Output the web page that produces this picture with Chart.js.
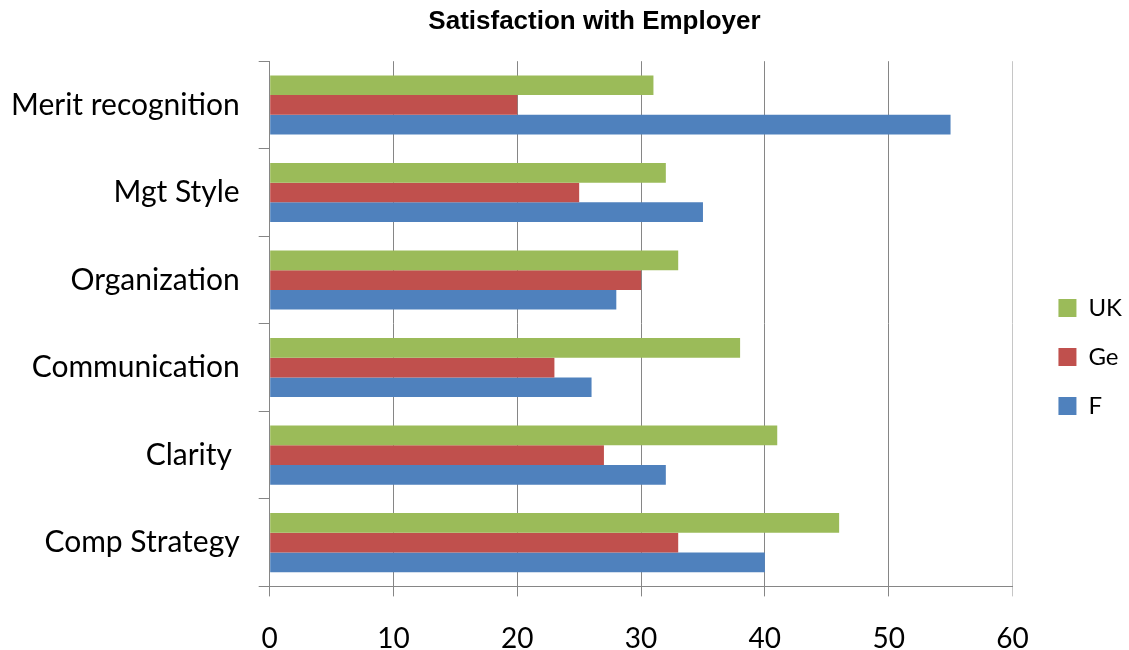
<!DOCTYPE html>
<html>
<head>
<meta charset="utf-8">
<script src="https://cdn.jsdelivr.net/npm/chart.js@4.4.1/dist/chart.umd.min.js"></script>
<style>
  html, body { margin: 0; padding: 0; background: #fff; }
  #wrap { width: 1129px; height: 650px; }
</style>
</head>
<body>
<div id="wrap"><canvas id="chart1" width="1129" height="650"></canvas></div>
<script>
// data
const categories = ['Merit recognition', 'Mgt Style', 'Organization', 'Communication', 'Clarity ', 'Comp Strategy'];
const ukValues = [31, 32, 33, 38, 41, 46];
const geValues = [20, 25, 30, 23, 27, 33];
const fValues = [55, 35, 28, 26, 32, 40];
const xTicks = [0, 10, 20, 30, 40, 50, 60];

const labelFont = "Lato, 'Open Sans', sans-serif";
const gridGrey = '#868686';

// nudge title and legend to where the original sits
const nudge = {
	id: 'nudge',
	afterLayout(chart) {
		chart.titleBlock.left += 86;
		const lg = chart.legend;
		lg.left += 21; lg.right += 21;
		lg.top += 16; lg.bottom += 16;
	}
};

const chart1 = new Chart('chart1', {
	type: 'bar',
	data: {
		labels: categories,
		datasets: [
			{ label: 'UK', data: ukValues, backgroundColor: '#9BBB59' },
			{ label: 'Ge', data: geValues, backgroundColor: '#C0504D' },
			{ label: 'F', data: fValues, backgroundColor: '#4F81BD' }
		]
	},
	options: {
		indexAxis: 'y',
		responsive: false,
		animation: false,
		categoryPercentage: 0.675,
		barPercentage: 1,
		layout: { padding: { left: -8, right: 18, top: 0, bottom: -32 } },
		plugins: {
			title: {
				display: true,
				text: 'Satisfaction with Employer',
				color: '#000',
				font: { family: "'Liberation Sans', Arial, sans-serif", size: 26, weight: 'bold' },
				padding: { top: 6, bottom: 24 }
			},
			legend: {
				position: 'right',
				labels: {
					color: '#000',
					font: { family: labelFont, size: 24 },
					boxWidth: 18,
					boxHeight: 18,
					padding: 25
				}
			},
			tooltip: { enabled: false }
		},
		scales: {
			x: {
				min: 0,
				max: 60,
				afterBuildTicks: (axis) => { axis.ticks = xTicks.map(v => ({ value: v })); },
				ticks: {
					color: '#000',
					font: { family: labelFont, size: 28 },
					padding: 26
				},
				grid: {
					color: (ctx) => (ctx.tick && ctx.tick.value === 60) ? '#c6c6c6' : gridGrey,
					tickLength: 10,
					lineWidth: 1
				},
				border: { color: gridGrey }
			},
			y: {
				ticks: {
					color: '#000',
					font: { family: labelFont, size: 30 },
					padding: 19
				},
				grid: {
					offset: true,
					drawOnChartArea: false,
					tickLength: 11,
					color: gridGrey
				},
				border: { color: gridGrey }
			}
		}
	},
	plugins: [nudge]
});
</script>
</body>
</html>
